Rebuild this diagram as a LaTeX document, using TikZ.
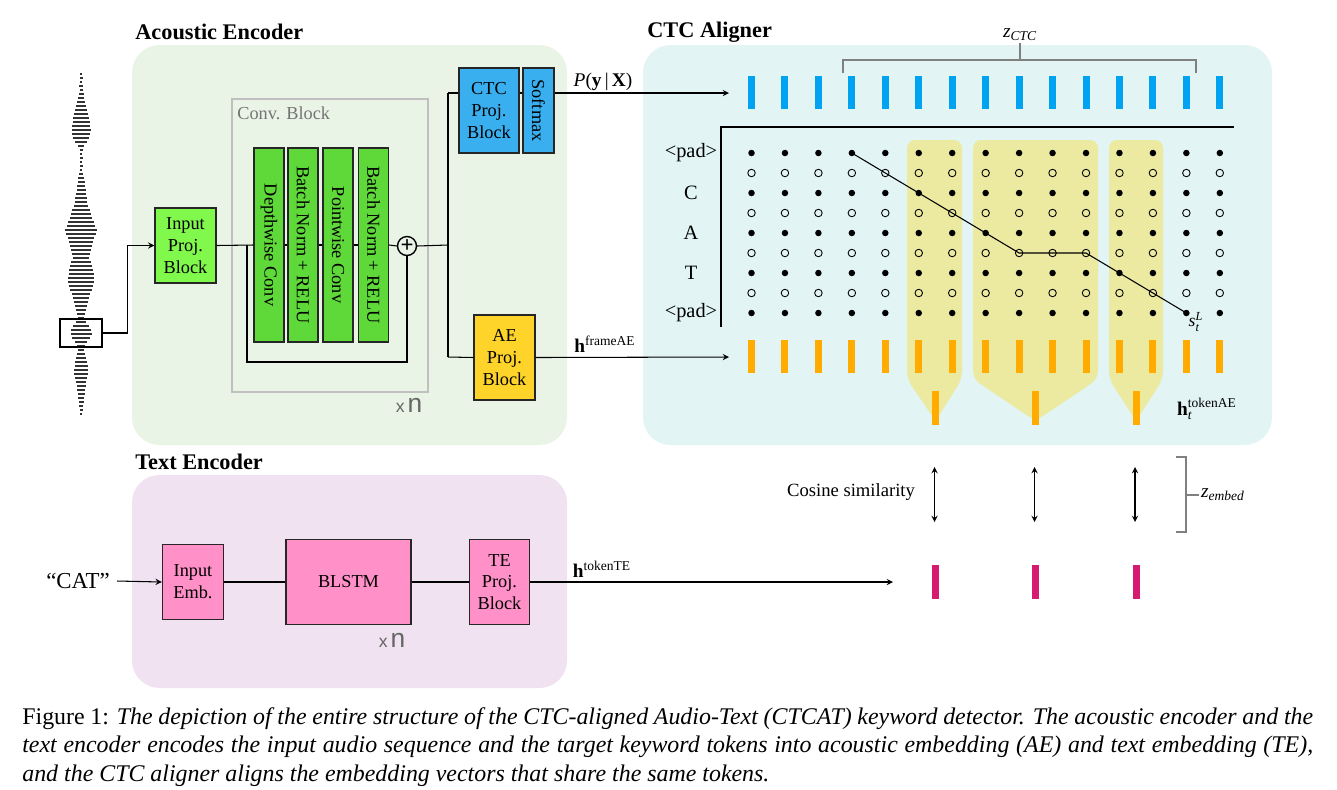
\documentclass[tikz,border=0pt]{standalone}
\usepackage{amsmath}
\usepackage{fontspec}
\setmainfont{Liberation Serif}
\setsansfont{Liberation Sans}
\usepackage{xcolor}
\usetikzlibrary{arrows,positioning}

\definecolor{aepanel}{HTML}{EAF4E6}
\definecolor{ctcpanel}{HTML}{E2F4F4}
\definecolor{tepanel}{HTML}{F0E2F0}
\definecolor{projgreen}{HTML}{80F84C}
\definecolor{convgreen}{HTML}{5FD93A}
\definecolor{ctcblue}{HTML}{3AAFEF}
\definecolor{aegold}{HTML}{FFD42A}
\definecolor{tepink}{HTML}{FF90C8}
\definecolor{barblue}{HTML}{00A2F2}
\definecolor{barorange}{HTML}{FFAB00}
\definecolor{barmagenta}{HTML}{D61A70}
\definecolor{hlyellow}{HTML}{ECE9A0}

\newcommand\blkfont{\fontsize{10.4}{12.4}\selectfont}
\newcommand\ttlfont{\fontsize{12.7}{15}\selectfont\bfseries}

\begin{document}
\begin{tikzpicture}[
    x=0.02cm, y=-0.02cm,
    block/.style={rectangle, draw=black!85, line width=0.8pt, align=center, inner sep=1pt, font=\blkfont},
    convbar/.style={block, fill=convgreen, minimum width=0.6cm, minimum height=3.88cm},
    title/.style={anchor=west, inner sep=0pt, font=\ttlfont},
    lab/.style={inner sep=1pt, font=\fontsize{11}{13}\selectfont},
    xn/.style={inner sep=0pt, text=black!60, font=\sffamily},
    ctcbar/.style={rectangle, fill=barblue, minimum width=0.14cm, minimum height=0.66cm, inner sep=0pt},
    aebar/.style={rectangle, fill=barorange, minimum width=0.14cm, minimum height=0.66cm, inner sep=0pt},
    tebar/.style={rectangle, fill=barmagenta, minimum width=0.14cm, minimum height=0.68cm, inner sep=0pt},
    dotfull/.style={circle, fill=black, minimum size=0.13cm, inner sep=0pt},
    dotopen/.style={circle, draw=black, line width=0.5pt, minimum size=0.15cm, inner sep=0pt},
    hl/.style={fill=hlyellow, rounded corners=0.16cm},
    line/.style={line width=0.6pt},
    arrow/.style={->, >=stealth, line width=0.6pt},
    dblarrow/.style={<->, >=stealth, line width=0.6pt},
    brace/.style={draw=black!50, line width=0.6pt}
]
    \useasboundingbox (0,0) rectangle (1337,789);

    % panels
    \fill[aepanel, rounded corners=0.55cm] (132,45) rectangle (567,445);
    \fill[ctcpanel, rounded corners=0.55cm] (643,45) rectangle (1272,445);
    \fill[tepanel, rounded corners=0.55cm] (132,475) rectangle (567,688);
    \node[title] (aetitle) at (135,32) {Acoustic Encoder};
    \node[title] (ctctitle) at (647,32) {CTC Aligner};
    \node[title] (tetitle) at (135,462) {Text Encoder};

    % waveform
    \foreach \wa [count=\k from 0] in {1,1.5,1,2,1.5,2.5,3,4,5,6,7,8,8.5,9,9.5,9,8,6,3,1.5,
        1,1.5,1,1.5,1,2,3,3.5,4,4.5,5,6,6,7,9,10,11,13,14,16,
        15,13,12,11,10,9,8,10,11,12,12.5,13,13,12,11,9,8,7,6,5,
        4,3,5,8,10,10.5,9,6,4,3,4,5,6,6.5,7,7,6,5,4.5,4,
        3.5,3,2.5,2,1.5,1}
        \draw[black!80, line width=1.1pt] ({81-\wa},{74+4*\k}) -- ({81+\wa},{74+4*\k});
    \node[draw, line width=0.8pt, minimum width=0.84cm, minimum height=0.56cm] (wavebox) at (81,333) {};

    % acoustic encoder
    \node[block, fill=projgreen, minimum width=1.22cm, minimum height=1.5cm] (inproj) at (185.5,245.5) {Input\\Proj.\\Block};
    \draw[black!25, line width=0.8pt] (232,99) rectangle (428,392);
    \node[anchor=west, inner sep=0pt, text=black!55, font=\blkfont] (convlab) at (237,113) {Conv. Block};
    \node[convbar] (dwconv) at (269,245) {\rotatebox{-90}{Depthwise Conv}};
    \node[convbar] (bnorm1) at (303,245) {\rotatebox{-90}{Batch Norm + RELU}};
    \node[convbar] (pwconv) at (338,245) {\rotatebox{-90}{Pointwise Conv}};
    \node[convbar] (bnorm2) at (373.5,245) {\rotatebox{-90}{Batch Norm + RELU}};
    \node[circle, draw, line width=0.8pt, minimum size=0.38cm, inner sep=0pt, font=\fontsize{13}{13}\selectfont\bfseries] (plus) at (407,246) {\raisebox{-0.6pt}{+}};
    \node[xn] (xnconv) at (409,405) {{\fontsize{10}{10}\selectfont x}\,{\fontsize{15}{15}\selectfont n}};

    \node[block, fill=ctcblue, minimum width=1.2cm, minimum height=1.7cm] (ctcproj) at (489,110.5) {CTC\\Proj.\\Block};
    \node[block, fill=ctcblue, minimum width=0.62cm, minimum height=1.7cm] (softmax) at (538.5,110.5) {\rotatebox{-90}{Softmax}};
    \node[block, fill=aegold, minimum width=1.22cm, minimum height=1.7cm] (aeproj) at (504.5,357.5) {AE\\Proj.\\Block};

    \draw[arrow] (wavebox.east) -- ++(25,0) |- (inproj.west);
    \draw[line] (inproj.east) -- (dwconv.west);
    \draw[line] (dwconv.east) -- (bnorm1.west);
    \draw[line] (bnorm1.east) -- (pwconv.west);
    \draw[line] (pwconv.east) -- (bnorm2.west);
    \draw[line] (bnorm2.east) -- (plus.west);
    \coordinate (skipin) at (247,245);
    \draw[line] (skipin) -- (247,362) -| (plus.south);

    \coordinate (split) at (448,245);
    \coordinate (splittop) at (448,93);
    \coordinate (splitbot) at (448,357);
    \coordinate (ctcin) at (729,93);
    \coordinate (aein) at (729,357);
    \draw[line] (plus.east) -- (split);
    \draw[line] (splittop) -- (splitbot);
    \draw[line] (splittop) -- (ctcproj.west |- splittop);
    \draw[line] (ctcproj.east |- splittop) -- (softmax.west |- splittop);
    \draw[arrow] (softmax.east |- splittop) -- (ctcin);
    \draw[line] (splitbot) -- (aeproj.west);
    \draw[arrow] (aeproj.east) -- (aein);
    \node[lab] (plab) at (603,82) {\textit{P}(\textbf{y}\,|\,\textbf{X})};
    \node[lab] (flab) at (605,344) {\textbf{h}\textsuperscript{frameAE}};

    % ctc aligner
    \foreach \l/\r/\m in {907/962/935.5, 973/1098/1035.5, 1109/1163/1136}
        \fill[hl] (\m,421) -- (\l,379) -- (\l,140) -- (\r,140) -- (\r,379) -- cycle;
    \foreach \i in {0,...,14} {
        \pgfmathsetmacro\cx{751.5+33.45*\i}
        \node[ctcbar] (p\i) at (\cx,92.5) {};
        \node[aebar] (f\i) at (\cx,356.5) {};
        \foreach \j in {0,...,8} {
            \ifodd\j
                \node[dotopen] (d-\i-\j) at (\cx,153+20*\j) {};
            \else
                \node[dotfull] (d-\i-\j) at (\cx,153+20*\j) {};
            \fi
        }
    }
    \draw[line] (d-3-0.center) -- (d-4-1.center) -- (d-5-2.center) -- (d-6-3.center)
        -- (d-7-4.center) -- (d-8-5.center) -- (d-9-5.center) -- (d-10-5.center)
        -- (d-11-6.center) -- (d-12-7.center) -- (d-13-8.center);
    \node[inner sep=0pt, font=\fontsize{10}{12}\selectfont] (slab) at (1196,322) {\textit{s}$_{\text{\itshape t}}^{\text{\itshape L}}$};
    \draw[line width=0.8pt] (721,327) -- (721,127) -- (1234,127);
    \node[lab, font=\fontsize{11.6}{13}\selectfont] (padtop) at (691,153) {<pad>};
    \node[lab, font=\fontsize{11.6}{13}\selectfont] (tokc) at (691,193) {C};
    \node[lab, font=\fontsize{11.6}{13}\selectfont] (toka) at (691,233) {A};
    \node[lab, font=\fontsize{11.6}{13}\selectfont] (tokt) at (691,273) {T};
    \node[lab, font=\fontsize{11.6}{13}\selectfont] (padbot) at (691,313) {<pad>};

    \node[lab] (zctc) at (1020,35) {\textit{z}$_{\text{\itshape CTC}}$};
    \coordinate (zctcstem) at (1020,60);
    \draw[brace] (843,73) -- (843,60) -- (1196,60) -- (1196,73);
    \draw[brace] (zctc.south) -- (zctcstem);

    \foreach \tx [count=\n] in {935.5,1035.5,1136} {
        \node[aebar, minimum height=0.68cm] (tok\n) at (\tx,408) {};
        \node[tebar] (te\n) at (\tx,582) {};
        \coordinate (ca\n) at (\tx-1,467);
        \coordinate (cb\n) at (\tx-1,522);
        \draw[dblarrow] (ca\n) -- (cb\n);
    }
    \node[lab] (tlab) at (1207,409) {$\textbf{h}_{\text{\itshape t}}^{\text{tokenAE}}$};
    \node[lab, font=\fontsize{10.6}{13}\selectfont] (coslab) at (851,492) {Cosine similarity};
    \node[lab] (zemb) at (1223,495) {\textit{z}$_{\text{\itshape embed}}$};
    \draw[brace] (1176,457) -- (1186,457) -- (1186,532) -- (1176,532);
    \draw[brace] (1186,495) -- (zemb.west);

    % text encoder
    \node[inner sep=4pt, font=\fontsize{13}{15}\selectfont] (cat) at (78,581) {“CAT”};
    \node[block, fill=tepink, minimum width=1.22cm, minimum height=1.5cm] (inemb) at (193,582) {Input\\Emb.};
    \node[block, fill=tepink, minimum width=2.5cm, minimum height=1.7cm] (blstm) at (348.5,582) {BLSTM};
    \node[block, fill=tepink, minimum width=1.2cm, minimum height=1.7cm] (teproj) at (499.5,582) {TE\\Proj.\\Block};
    \node[xn] (xnte) at (392,640) {{\fontsize{10}{10}\selectfont x}\,{\fontsize{15}{15}\selectfont n}};
    \coordinate (tein) at (893,582);
    \draw[arrow] (cat.east) -- (inemb.west);
    \draw[line] (inemb.east) -- (blstm.west);
    \draw[line] (blstm.east) -- (teproj.west);
    \draw[arrow] (teproj.east) -- (tein);
    \node[lab] (telab) at (602,569) {\textbf{h}\textsuperscript{tokenTE}};

    % caption
    \node[anchor=north west, inner sep=0pt, text width=25.82cm, align=justify, font=\fontsize{13.6}{16.3}\selectfont] (caption) at (22,707)
        {Figure 1: \textit{The depiction of the entire structure of the CTC-aligned Audio-Text (CTCAT) keyword detector. The acoustic encoder and the\linebreak
        text encoder encodes the input audio sequence and the target keyword tokens into acoustic embedding (AE) and text embedding (TE),\linebreak
        and the CTC aligner aligns the embedding vectors that share the same tokens.}};
\end{tikzpicture}
\end{document}
